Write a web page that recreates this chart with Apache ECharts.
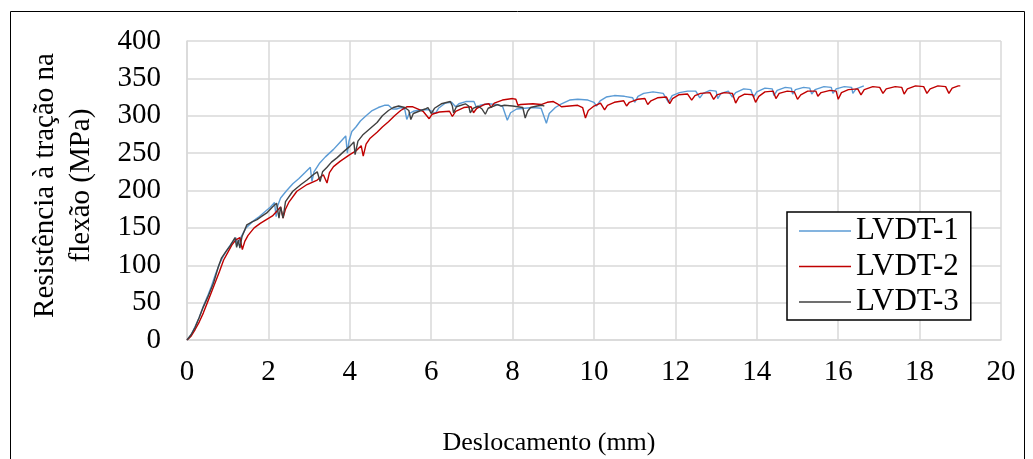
<!DOCTYPE html>
<html>
<head>
<meta charset="utf-8">
<script src="https://cdn.jsdelivr.net/npm/echarts@6/dist/echarts.min.js"></script>
<style>
  html, body { margin: 0; padding: 0; background: #fff; }
  #chart { width: 1033px; height: 459px; }
</style>
</head>
<body>
<div id="chart"></div>
<script>
// Flexural tensile strength vs. displacement, three LVDT readings [mm, MPa]
const seriesNames = ['LVDT-1', 'LVDT-2', 'LVDT-3'];
const xTicks = [0, 2, 4, 6, 8, 10, 12, 14, 16, 18, 20];
const yTicks = [0, 50, 100, 150, 200, 250, 300, 350, 400];

const lvdt1 = [
  [0,0],[0.1,7],[0.2,18],[0.3,30],[0.4,45],[0.5,58],[0.6,72],[0.7,88],[0.8,102],[0.9,113],
  [1.0,122],[1.1,130],[1.2,137],[1.24,126],[1.3,135],[1.45,150],[1.6,158],[1.75,164],[1.9,171],
  [2.05,178],[2.15,184],[2.19,165],[2.23,180],[2.3,190],[2.45,200],[2.6,209],[2.75,216],[2.9,224],
  [3.03,231],[3.07,212],[3.12,225],[3.25,236],[3.4,245],[3.6,255],[3.75,264],[3.9,273],[3.94,250],
  [3.98,266],[4.05,279],[4.15,285],[4.26,293],[4.4,300],[4.55,307],[4.7,311],[4.85,314],[4.95,314],
  [5.05,309],[5.15,309],[5.25,311],[5.35,309],[5.4,295],[5.46,303],[5.56,306],[5.75,308],[5.95,308],
  [6.05,305],[6.1,303],[6.18,310],[6.35,317],[6.5,318],[6.6,312],[6.68,316],[6.85,319],[7.05,319],
  [7.12,310],[7.2,314],[7.4,316],[7.6,315],[7.75,313],[7.87,294],[7.95,304],[8.1,309],[8.3,310],
  [8.5,311],[8.7,310],[8.83,290],[8.9,303],[9.05,311],[9.2,316],[9.4,321],[9.6,322],[9.85,321],
  [10.0,318],[10.06,313],[10.15,320],[10.3,325],[10.5,327],[10.75,326],[10.95,324],[11.0,318],
  [11.08,326],[11.22,330],[11.45,332],[11.7,330],[11.83,318],[11.92,327],[12.1,331],[12.3,333],
  [12.5,333],[12.6,324],[12.68,330],[12.85,334],[13.0,333],[13.04,323],[13.12,330],[13.3,333],
  [13.4,325],[13.48,331],[13.68,336],[13.85,335],[13.92,325],[14.0,332],[14.2,337],[14.38,336],
  [14.42,327],[14.5,334],[14.7,338],[14.85,337],[14.88,329],[14.95,335],[15.15,338],[15.3,337],
  [15.35,329],[15.43,335],[15.65,339],[15.83,338],[15.87,330],[15.95,336],[16.15,339],[16.33,338],
  [16.36,330],[16.44,336],[16.63,340]
];

const lvdt2 = [
  [0,0],[0.1,5],[0.2,14],[0.3,24],[0.4,36],[0.5,50],[0.6,64],[0.7,78],[0.8,92],[0.9,107],
  [1.0,117],[1.1,127],[1.2,134],[1.3,137],[1.36,121],[1.42,132],[1.5,140],[1.65,150],[1.8,156],
  [1.95,161],[2.1,166],[2.2,172],[2.3,178],[2.36,163],[2.42,175],[2.5,184],[2.7,199],[2.95,208],
  [3.2,214],[3.35,221],[3.44,210],[3.5,224],[3.6,232],[3.76,239],[4.0,248],[4.15,253],[4.28,260],
  [4.33,246],[4.4,262],[4.5,270],[4.67,278],[4.8,285],[4.95,292],[5.1,300],[5.25,307],[5.4,312],
  [5.55,312],[5.68,309],[5.8,306],[5.95,296],[6.02,302],[6.2,305],[6.45,306],[6.52,299],[6.6,306],
  [6.8,311],[6.98,312],[7.04,304],[7.12,310],[7.3,315],[7.42,316],[7.47,311],[7.55,317],[7.75,321],
  [8.0,323],[8.08,322],[8.13,314],[8.2,315],[8.5,316],[8.7,315],[8.85,318],[9.0,319],[9.1,316],
  [9.2,312],[9.4,313],[9.6,314],[9.72,311],[9.79,297],[9.86,307],[10.0,313],[10.16,317],[10.26,308],
  [10.33,314],[10.5,318],[10.73,320],[10.8,313],[10.87,318],[11.07,322],[11.25,323],[11.32,315],
  [11.4,320],[11.56,324],[11.78,325],[11.86,316],[11.93,323],[12.08,328],[12.3,329],[12.4,321],
  [12.48,327],[12.62,330],[12.85,331],[12.94,322],[13.02,328],[13.2,331],[13.4,330],[13.48,317],
  [13.56,325],[13.7,329],[13.9,328],[13.97,318],[14.05,326],[14.2,332],[14.4,333],[14.47,323],
  [14.55,330],[14.75,333],[14.92,332],[15.0,322],[15.08,328],[15.25,333],[15.45,333],[15.5,326],
  [15.58,331],[15.8,334],[15.95,333],[16.0,322],[16.08,331],[16.25,335],[16.48,336],[16.56,328],
  [16.64,335],[16.85,339],[17.02,338],[17.1,330],[17.18,336],[17.4,339],[17.56,338],[17.62,329],
  [17.7,336],[17.9,340],[18.1,339],[18.18,330],[18.26,336],[18.45,340],[18.64,339],[18.72,330],
  [18.8,337],[18.95,340],[19.0,340]
];

const lvdt3 = [
  [0,0],[0.1,7],[0.2,17],[0.3,30],[0.4,44],[0.5,56],[0.65,76],[0.77,98],[0.85,110],[0.95,118],
  [1.06,126],[1.18,137],[1.22,124],[1.26,134],[1.3,123],[1.35,138],[1.47,154],[1.6,158],[1.72,161],
  [1.85,166],[1.96,170],[2.1,178],[2.2,183],[2.26,163],[2.3,178],[2.36,163],[2.42,185],[2.6,199],
  [2.8,208],[2.95,214],[3.1,221],[3.2,225],[3.27,212],[3.33,225],[3.44,231],[3.55,238],[3.69,244],
  [3.85,252],[4.0,259],[4.1,265],[4.13,248],[4.2,266],[4.33,275],[4.5,283],[4.67,291],[4.8,300],
  [4.95,307],[5.07,311],[5.2,313],[5.35,311],[5.45,307],[5.5,295],[5.56,303],[5.7,306],[5.85,309],
  [5.92,311],[6.0,303],[6.08,310],[6.25,316],[6.47,319],[6.52,313],[6.55,304],[6.62,312],[6.84,316],
  [6.92,313],[6.96,304],[7.03,310],[7.15,313],[7.25,309],[7.33,302],[7.4,310],[7.63,315],[7.72,313],
  [7.8,314],[8.0,313],[8.25,311],[8.31,297],[8.37,306],[8.44,311],[8.6,313],[8.73,314],[8.78,313]
];

const colors = ['#5B9BD5', '#C00000', '#404040'];
const serif = "'Liberation Serif', 'Times New Roman', serif";

const chart = echarts.init(document.getElementById('chart'), null, { renderer: 'canvas' });

chart.setOption({
  animation: false,
  backgroundColor: '#fff',
  textStyle: { fontFamily: serif, color: '#000' },
  graphic: [{
    type: 'rect',
    shape: { x: 10.5, y: 11.5, width: 1014, height: 470 },
    style: { fill: null, stroke: '#000', lineWidth: 1 },
    silent: true, z: -1
  }],
  grid: { left: 187, top: 41, right: 32, bottom: 119, containLabel: false, outerBoundsMode: 'none' },
  xAxis: {
    type: 'value',
    min: xTicks[0], max: xTicks[xTicks.length - 1], interval: 2,
    name: 'Deslocamento (mm)',
    nameLocation: 'middle',
    nameGap: 90,
    nameTextStyle: { fontFamily: serif, fontSize: 26, color: '#000', lineHeight: 26, padding: [0, 90, 0, 0] },
    axisLine: { show: true, lineStyle: { color: '#d9d9d9', width: 1.5 } },
    axisTick: { show: false },
    splitLine: { show: true, lineStyle: { color: '#d9d9d9', width: 1.5 } },
    axisLabel: { fontFamily: serif, fontSize: 29, color: '#000', margin: 18, lineHeight: 29 }
  },
  yAxis: {
    type: 'value',
    min: yTicks[0], max: yTicks[yTicks.length - 1], interval: 50,
    name: 'Resistência à tração na\nflexão (MPa)',
    nameLocation: 'middle',
    nameGap: 88,
    nameRotate: 90,
    nameTextStyle: { fontFamily: serif, fontSize: 29, color: '#000', lineHeight: 36, padding: [0, 0, 0, 10] },
    axisLine: { show: true, lineStyle: { color: '#d9d9d9', width: 1.5 } },
    axisTick: { show: false },
    splitLine: { show: true, lineStyle: { color: '#d9d9d9', width: 1.5 } },
    axisLabel: { fontFamily: serif, fontSize: 29, color: '#000', margin: 26 }
  },
  legend: {
    orient: 'vertical',
    left: 787, top: 212,
    padding: [3.5, 12, 2.5, 12],
    itemWidth: 52, itemHeight: 1.6, itemGap: 4.5,
    icon: 'rect',
    backgroundColor: '#fff',
    borderColor: '#000', borderWidth: 1.5, borderRadius: 0,
    textStyle: { fontFamily: serif, fontSize: 31, color: '#000', lineHeight: 31 },
    data: seriesNames
  },
  series: [
    { name: seriesNames[0], data: lvdt1, color: colors[0] },
    { name: seriesNames[1], data: lvdt2, color: colors[1] },
    { name: seriesNames[2], data: lvdt3, color: colors[2] }
  ].map((s, i) => ({
    type: 'line',
    name: s.name,
    data: s.data,
    symbol: 'none',
    smooth: false,
    z: 3 + (i === 0 ? 0 : i === 2 ? 2 : 1),
    lineStyle: { color: s.color, width: 1.4 },
    itemStyle: { color: s.color }
  }))
});
</script>
</body>
</html>
